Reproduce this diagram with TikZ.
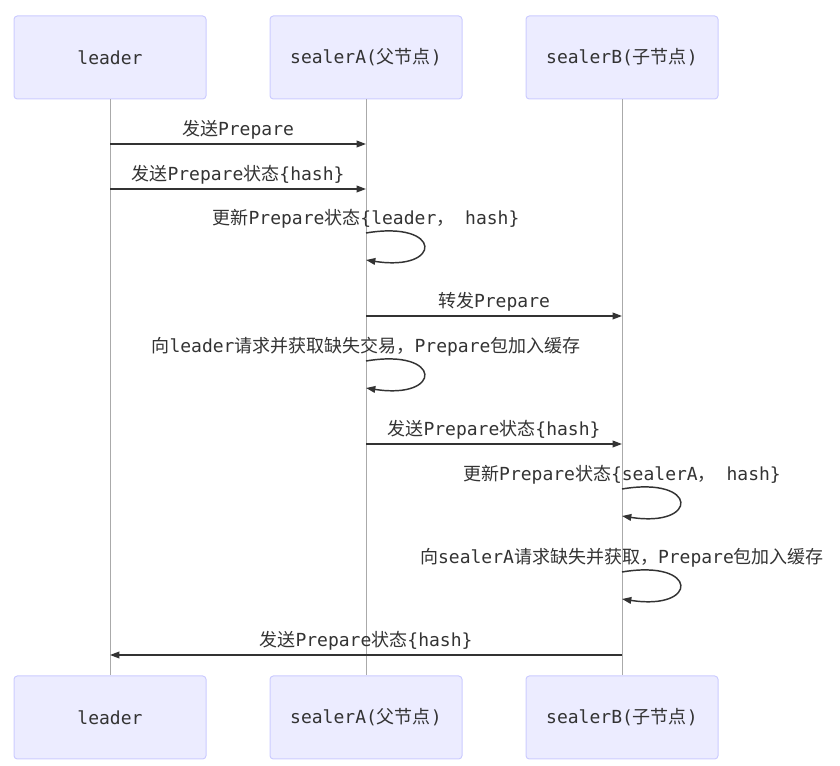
\documentclass[tikz,border=0pt]{standalone}
\usepackage{fontspec}
\setmainfont{DejaVu Sans Mono}
\newfontfamily\cjk{Noto Sans CJK SC}
\usetikzlibrary{arrows.meta}
\newcommand{\zh}[1]{{\cjk #1}}
\definecolor{actfill}{HTML}{ECECFF}
\definecolor{actline}{HTML}{CCCCFF}
\definecolor{msgcol}{HTML}{333333}
\definecolor{lifecol}{HTML}{AAAAAA}

\begin{document}
\begin{tikzpicture}[x=0.75pt, y=-0.75pt,
	every node/.style={font=\fontsize{13.5}{16}\selectfont, text=msgcol},
	actor/.style={draw=actline, fill=actfill, line width=0.75pt, rounded corners=2.5pt,
		minimum width=144pt, minimum height=62.25pt, inner sep=0pt},
	msg/.style={draw=msgcol, line width=1.1pt, -{Triangle[length=7pt, width=5pt]}},
	lbl/.style={anchor=base, yshift=6pt, inner sep=0pt},
	life/.style={draw=lifecol, line width=0.75pt}]
	\useasboundingbox (0,0) rectangle (840,766);
	
	% Actors top and bottom
	\node[actor] (leaderT) at (110,57.5) {leader};
	\node[actor] (sealerAT) at (366,57.5) {sealerA(\zh{父节点})};
	\node[actor] (sealerBT) at (622,57.5) {sealerB(\zh{子节点})};
	\node[actor] (leaderB) at (110,717.5) {leader};
	\node[actor] (sealerAB) at (366,717.5) {sealerA(\zh{父节点})};
	\node[actor] (sealerBB) at (622,717.5) {sealerB(\zh{子节点})};
	
	% Lifelines
	\draw[life] (leaderT) -- (leaderB);
	\draw[life] (sealerAT) -- (sealerAB);
	\draw[life] (sealerBT) -- (sealerBB);
	
	% Message heights
	\coordinate (m1) at (0,144);
	\coordinate (m2) at (0,189);
	\coordinate (m4) at (0,316);
	\coordinate (m6) at (0,444);
	\coordinate (m9) at (0,655);
	
	% Self loops (start, end)
	\coordinate (a1) at (366,233); \coordinate (a1e) at (366,260);
	\coordinate (a2) at (366,361); \coordinate (a2e) at (366,388);
	\coordinate (b1) at (622,489); \coordinate (b1e) at (622,516);
	\coordinate (b2) at (622,572); \coordinate (b2e) at (622,599);
	
	% leader -> sealerA
	\draw[msg] (leaderT |- m1) -- node[lbl] (t1) {\zh{发送}Prepare} (sealerAT |- m1);
	\draw[msg] (leaderT |- m2) -- node[lbl] (t2) {\zh{发送}Prepare\zh{状态}\{hash\}} (sealerAT |- m2);
	
	% sealerA updates
	\draw[msg] (a1) .. controls +(77,-13) and +(77,12) .. (a1e);
	\node[lbl] (t3) at (a1) {\zh{更新}Prepare\zh{状态}\{leader\zh{，} hash\}};
	
	% sealerA -> sealerB
	\draw[msg] (sealerAT |- m4) -- node[lbl] (t4) {\zh{转发}Prepare} (sealerBT |- m4);
	
	\draw[msg] (a2) .. controls +(77,-13) and +(77,12) .. (a2e);
	\node[lbl] (t5) at (a2) {\zh{向}leader\zh{请求并获取缺失交易，}Prepare\zh{包加入缓存}};
	
	\draw[msg] (sealerAT |- m6) -- node[lbl] (t6) {\zh{发送}Prepare\zh{状态}\{hash\}} (sealerBT |- m6);
	
	% sealerB updates
	\draw[msg] (b1) .. controls +(77,-13) and +(77,12) .. (b1e);
	\node[lbl] (t7) at (b1) {\zh{更新}Prepare\zh{状态}\{sealerA\zh{，} hash\}};
	
	\draw[msg] (b2) .. controls +(77,-13) and +(77,12) .. (b2e);
	\node[lbl] (t8) at (b2) {\zh{向}sealerA\zh{请求缺失并获取，}Prepare\zh{包加入缓存}};
	
	% sealerB -> leader
	\draw[msg] (sealerBT |- m9) -- node[lbl] (t9) {\zh{发送}Prepare\zh{状态}\{hash\}} (leaderT |- m9);
\end{tikzpicture}
\end{document}
